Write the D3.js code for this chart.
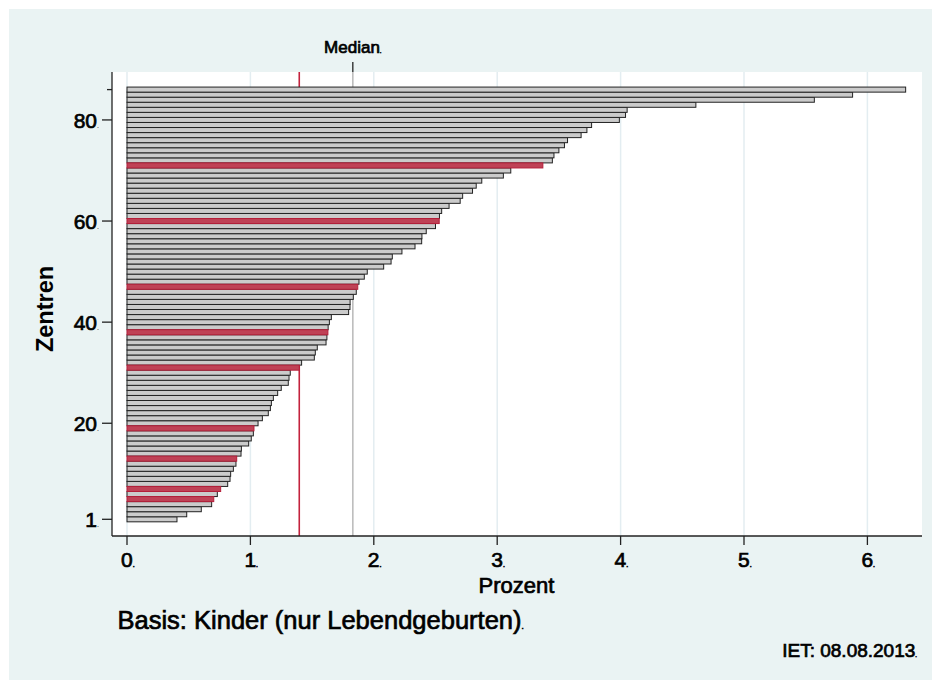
<!DOCTYPE html>
<html>
<head>
<meta charset="utf-8">
<script src="https://cdn.jsdelivr.net/npm/d3@7"></script>
<style>
  html, body { margin: 0; padding: 0; background: #ffffff; }
  svg { display: block; }
  text { font-family: "Liberation Sans", Arial, sans-serif; fill: #000; }
  text.heavy { stroke: #000; stroke-width: 0.7px; paint-order: stroke; }
</style>
</head>
<body>
<svg id="chart" width="932" height="680"></svg>
<script>
// ---- data ----
const centers = d3.range(1, 87); // Zentren 1..86
const percentValues = [
  0.405, 0.484, 0.602, 0.686, 0.703, 0.732, 0.759, 0.816, 0.835, 0.840,
  0.862, 0.883, 0.889, 0.924, 0.927, 0.986, 1.007, 1.024, 1.029, 1.062,
  1.097, 1.145, 1.162, 1.170, 1.186, 1.221, 1.250, 1.307, 1.313, 1.323,
  1.396, 1.415, 1.518, 1.526, 1.542, 1.613, 1.620, 1.628, 1.630, 1.640,
  1.656, 1.796, 1.807, 1.808, 1.834, 1.858, 1.870, 1.880, 1.923, 1.947,
  2.080, 2.140, 2.150, 2.228, 2.334, 2.388, 2.390, 2.425, 2.500, 2.530,
  2.532, 2.550, 2.610, 2.700, 2.720, 2.800, 2.830, 2.875, 3.050, 3.110,
  3.370, 3.447, 3.460, 3.500, 3.545, 3.570, 3.680, 3.727, 3.765, 3.990,
  4.040, 4.053, 4.610, 5.570, 5.880, 6.310
];
const highlighted = [5, 7, 13, 19, 31, 38, 47, 60, 71];
const ownCenterValue = 1.396;
const medianValue = 1.83;
const xTicks = [0, 1, 2, 3, 4, 5, 6];
const yTicks = [1, 20, 40, 60, 80];
const yMinorTicks = [86];
const xTitle = "Prozent";
const yTitle = "Zentren";
const medianLabel = "Median";
const noteText = "Basis: Kinder (nur Lebendgeburten)";
const dateText = "IET: 08.08.2013";

const bars = centers.map((c, i) => ({ c, v: percentValues[i], hi: highlighted.includes(c) }));

// ---- layout ----
const svg = d3.select("#chart");
const plot = { left: 112, right: 922, top: 72, bottom: 536 };

svg.append("rect").attr("x", 9).attr("y", 9).attr("width", 923).attr("height", 671).attr("fill", "#eaf3f3");
svg.append("rect").attr("x", plot.left).attr("y", plot.top)
  .attr("width", plot.right - plot.left).attr("height", plot.bottom - plot.top).attr("fill", "#ffffff");

const x = d3.scaleLinear().domain([0, 6]).range([127, 867.4]);
const y = d3.scaleLinear().domain([1, 86]).range([519.3, 89.6]);
const step = Math.abs(y(2) - y(1));

// gridlines
svg.append("g").selectAll("line").data(xTicks).join("line")
  .attr("x1", d => x(d)).attr("x2", d => x(d))
  .attr("y1", plot.top).attr("y2", plot.bottom)
  .attr("stroke", "#e3edf1").attr("stroke-width", 1.5);

// reference lines (behind bars)
svg.append("line").attr("x1", x(medianValue)).attr("x2", x(medianValue))
  .attr("y1", plot.top).attr("y2", plot.bottom).attr("stroke", "#bdbdbd").attr("stroke-width", 1.6);
svg.append("line").attr("x1", x(ownCenterValue)).attr("x2", x(ownCenterValue))
  .attr("y1", plot.top).attr("y2", plot.bottom).attr("stroke", "#c3223d").attr("stroke-width", 1.6);

// bars
svg.append("g").selectAll("rect").data(bars.filter(d => !d.hi)).join("rect")
  .attr("x", x(0)).attr("y", d => y(d.c) - step / 2)
  .attr("width", d => x(d.v) - x(0)).attr("height", step)
  .attr("fill", "#cbcbcb").attr("stroke", "#222").attr("stroke-width", 1);
svg.append("g").selectAll("rect").data(bars.filter(d => d.hi)).join("rect")
  .attr("x", x(0)).attr("y", d => y(d.c) - step / 2)
  .attr("width", d => x(d.v) - x(0)).attr("height", step)
  .attr("fill", "#bf4256").attr("stroke", "#b51f3a").attr("stroke-width", 1);

// median marker above plot
svg.append("line").attr("x1", x(medianValue)).attr("x2", x(medianValue))
  .attr("y1", 62).attr("y2", plot.top).attr("stroke", "#222").attr("stroke-width", 1.3);
const mt = svg.append("text").attr("class", "heavy").attr("x", x(medianValue)).attr("y", 52.5)
  .attr("text-anchor", "middle").attr("font-size", 17);
mt.append("tspan").text(medianLabel);
mt.append("tspan").attr("font-size", 6).text(".");

// axes lines
svg.append("line").attr("x1", plot.left).attr("x2", plot.left).attr("y1", plot.top).attr("y2", plot.bottom)
  .attr("stroke", "#222").attr("stroke-width", 1.3);
svg.append("line").attr("x1", plot.left).attr("x2", plot.right).attr("y1", plot.bottom).attr("y2", plot.bottom)
  .attr("stroke", "#222").attr("stroke-width", 1.3);

// x ticks
const xg = svg.append("g");
xg.selectAll("line").data(xTicks).join("line")
  .attr("x1", d => x(d)).attr("x2", d => x(d)).attr("y1", plot.bottom).attr("y2", plot.bottom + 9)
  .attr("stroke", "#222").attr("stroke-width", 1.3);
xg.selectAll("text").data(xTicks).join("text").attr("class", "heavy")
  .attr("x", d => x(d) - 6).attr("y", 567).attr("font-size", 21)
  .each(function(d) {
    const t = d3.select(this);
    t.append("tspan").text(d3.format("d")(d));
    t.append("tspan").attr("font-size", 7).text(".");
  });

// y ticks
const yg = svg.append("g");
yg.selectAll("line").data(yTicks).join("line")
  .attr("x1", plot.left - 10).attr("x2", plot.left).attr("y1", d => y(d)).attr("y2", d => y(d))
  .attr("stroke", "#222").attr("stroke-width", 1.3);
yg.selectAll("line.minor").data(yMinorTicks).join("line").attr("class", "minor")
  .attr("x1", plot.left - 5).attr("x2", plot.left).attr("y1", d => y(d)).attr("y2", d => y(d))
  .attr("stroke", "#222").attr("stroke-width", 1.3);
yg.selectAll("text.lab").data(yTicks).join("text").attr("class", "lab heavy")
  .attr("x", 97).attr("y", d => y(d) + 8).attr("font-size", 21).attr("text-anchor", "end")
  .text(d => d);
yg.selectAll("text.dot").data(yTicks).join("text").attr("class", "dot")
  .attr("x", 97).attr("y", d => y(d) + 8).attr("font-size", 7).text(".");

// axis titles
svg.append("text").attr("class", "heavy").attr("x", 516.5).attr("y", 593).attr("text-anchor", "middle")
  .attr("font-size", 22).text(xTitle);
svg.append("text").attr("transform", "translate(53,309) rotate(-90)").attr("text-anchor", "middle")
  .attr("font-size", 23.5).attr("font-weight", "bold").text(yTitle);

// notes
const nt = svg.append("text").attr("class", "heavy").attr("x", 117.5).attr("y", 629).attr("font-size", 25.5);
nt.append("tspan").text(noteText);
nt.append("tspan").attr("font-size", 8).text(".");
const dt = svg.append("text").attr("class", "heavy").attr("x", 917).attr("y", 657).attr("font-size", 19).attr("text-anchor", "end");
dt.append("tspan").text(dateText);
dt.append("tspan").attr("font-size", 6).text(".");
</script>
</body>
</html>
